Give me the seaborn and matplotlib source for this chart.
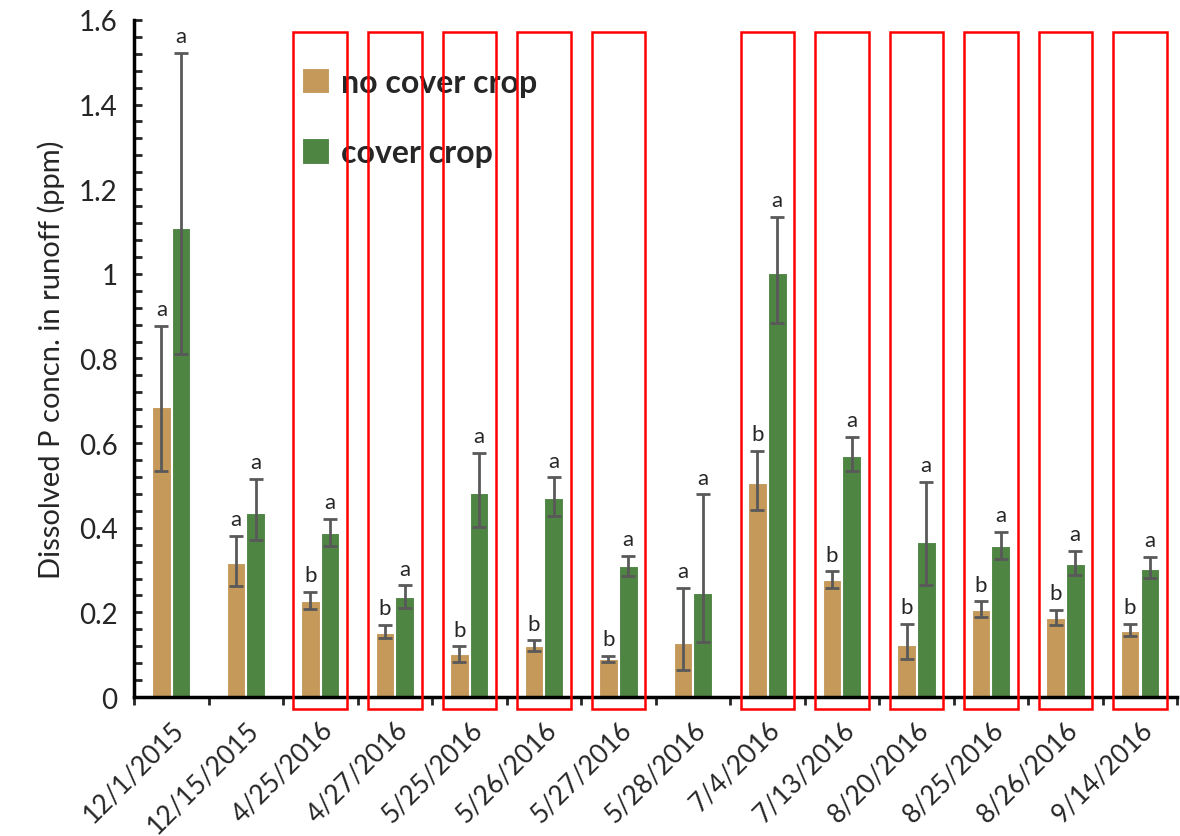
import seaborn as sns
import matplotlib.pyplot as plt
from matplotlib.patches import Rectangle
from matplotlib.ticker import MultipleLocator
import numpy as np
import pandas as pd

sns.set_style(style='white')
plt.rcParams['font.family'] = ['Lato', 'DejaVu Sans']

dates = ['12/1/2015', '12/15/2015', '4/25/2016', '4/27/2016', '5/25/2016',
         '5/26/2016', '5/27/2016', '5/28/2016', '7/4/2016', '7/13/2016',
         '8/20/2016', '8/25/2016', '8/26/2016', '9/14/2016']

# no cover crop: mean, error bar low / high
nc_mean = [0.685, 0.317, 0.228, 0.152, 0.101, 0.121, 0.091, 0.128, 0.505, 0.276, 0.122, 0.206, 0.187, 0.157]
nc_lo = [0.535, 0.262, 0.208, 0.139, 0.084, 0.110, 0.084, 0.065, 0.442, 0.258, 0.091, 0.188, 0.171, 0.144]
nc_hi = [0.877, 0.380, 0.249, 0.171, 0.120, 0.134, 0.098, 0.258, 0.581, 0.297, 0.173, 0.226, 0.206, 0.173]
nc_letter = ['a', 'a', 'b', 'b', 'b', 'b', 'b', 'a', 'b', 'b', 'b', 'b', 'b', 'b']

# cover crop
cc_mean = [1.109, 0.436, 0.388, 0.236, 0.482, 0.470, 0.309, 0.246, 1.003, 0.570, 0.367, 0.356, 0.315, 0.303]
cc_lo = [0.810, 0.371, 0.358, 0.211, 0.403, 0.429, 0.287, 0.129, 0.885, 0.534, 0.265, 0.326, 0.288, 0.282]
cc_hi = [1.522, 0.515, 0.421, 0.264, 0.577, 0.519, 0.334, 0.479, 1.135, 0.614, 0.509, 0.390, 0.346, 0.331]
cc_letter = ['a'] * 14

# dates outlined in red
boxed = [2, 3, 4, 5, 6, 8, 9, 10, 11, 12, 13]

groups = ['no cover crop', 'cover crop']
colors = ['#C4995A', '#4E8543']

df = pd.DataFrame({
    'date': dates * 2,
    'value': nc_mean + cc_mean,
    'group': [groups[0]] * len(dates) + [groups[1]] * len(dates),
})

fig = plt.figure(figsize=(11.8, 8.37), dpi=100)
ax = fig.add_axes([0.1136, 0.166, 0.884, 0.809])

bar_w = 0.53
sns.barplot(data=df, x='date', y='value', hue='group', hue_order=groups,
            palette=colors, width=bar_w, gap=0.06, edgecolor='white',
            linewidth=0.8, saturation=1, ax=ax)

x = np.arange(len(dates))
off = bar_w / 4
for xs, m, lo, hi, let in [(x - off, nc_mean, nc_lo, nc_hi, nc_letter),
                           (x + off, cc_mean, cc_lo, cc_hi, cc_letter)]:
    m, lo, hi = np.array(m), np.array(lo), np.array(hi)
    ax.errorbar(xs, m, yerr=[m - lo, hi - m], fmt='none', ecolor='#595959',
                elinewidth=2, capsize=5, capthick=2, zorder=4)
    for xi, h, t in zip(xs, hi, let):
        ax.text(xi, h + 0.016, t, ha='center', va='bottom', fontsize=16,
                color='#262626')

for i in boxed:
    ax.add_patch(Rectangle((i - 0.36, -0.028), 0.72, 1.6, fill=False,
                           edgecolor='red', linewidth=1.8, clip_on=False,
                           zorder=6))

ax.set_xlim(-0.5, len(dates) - 0.5)
ax.set_ylim(0, 1.6)
ax.yaxis.set_minor_locator(MultipleLocator(0.04))
ax.set_yticks(np.arange(0, 1.61, 0.2))
ax.set_yticklabels(['0', '0.2', '0.4', '0.6', '0.8', '1', '1.2', '1.4', '1.6'])
ax.tick_params(axis='y', which='both', direction='in', length=6, width=2,
               labelsize=20, pad=12, left=True)
ax.set_xticks(x)
ax.set_xticks(np.arange(len(dates) + 1) - 0.5, minor=True)
ax.set_xticklabels(dates, rotation=45, ha='right', rotation_mode='anchor')
ax.tick_params(axis='x', which='major', length=0, labelsize=19, pad=14)
ax.tick_params(axis='x', which='minor', direction='out', length=6, width=2,
               bottom=True)

for s in ['top', 'right']:
    ax.spines[s].set_visible(False)
for s in ['left', 'bottom']:
    ax.spines[s].set_linewidth(2.5)
    ax.spines[s].set_color('black')

ax.set_xlabel('')
ax.set_ylabel('Dissolved P concn. in runoff (ppm)', fontsize=21, labelpad=10)

leg = ax.legend(loc='upper left', bbox_to_anchor=(0.133, 0.972), frameon=False,
                prop={'size': 23, 'weight': 'bold'}, handlelength=0.85,
                handleheight=0.85, labelspacing=1.3, handletextpad=0.4)

fig.savefig('out.png', dpi=100)
